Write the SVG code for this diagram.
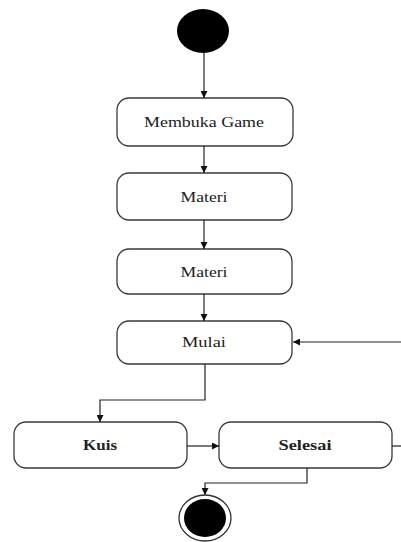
<svg xmlns="http://www.w3.org/2000/svg" width="401" height="542" viewBox="0 0 401 542">
<style>
.box{fill:#fff;stroke:#3a3a3a;stroke-width:1.3}
.lbl{font-family:"Liberation Serif","Times New Roman",serif;font-size:15px;fill:#222;text-anchor:middle}
.b{font-weight:bold}
.edge{fill:none;stroke:#222;stroke-width:1.2}
</style>
<defs>
<marker id="ah" viewBox="0 0 10 10" refX="10" refY="5" markerWidth="7" markerHeight="7" orient="auto" markerUnits="userSpaceOnUse">
<path d="M0,0 L10,5 L0,10 z" fill="#111"/>
</marker>
</defs>
<rect width="401" height="542" fill="#fff"/>
<g id="start"><ellipse cx="203" cy="31" rx="26" ry="22" fill="#000"/></g>
<g id="membuka"><rect class="box" x="117" y="98" width="176" height="48" rx="12"/><text class="lbl" x="204" y="127" textLength="120" lengthAdjust="spacingAndGlyphs">Membuka Game</text></g>
<g id="materi1"><rect class="box" x="117" y="173" width="175" height="47" rx="12"/><text class="lbl" x="204" y="202" textLength="47" lengthAdjust="spacingAndGlyphs">Materi</text></g>
<g id="materi2"><rect class="box" x="117" y="249" width="175" height="45" rx="12"/><text class="lbl" x="204" y="277" textLength="47" lengthAdjust="spacingAndGlyphs">Materi</text></g>
<g id="mulai"><rect class="box" x="117" y="321" width="175" height="43" rx="12"/><text class="lbl" x="204" y="347" textLength="44" lengthAdjust="spacingAndGlyphs">Mulai</text></g>
<g id="kuis"><rect class="box" x="14" y="422" width="173" height="46" rx="12"/><text class="lbl b" x="100" y="450" textLength="34" lengthAdjust="spacingAndGlyphs">Kuis</text></g>
<g id="selesai"><rect class="box" x="219" y="422" width="173" height="46" rx="12"/><text class="lbl b" x="305" y="450" textLength="53" lengthAdjust="spacingAndGlyphs">Selesai</text></g>
<g id="end"><ellipse cx="205" cy="518" rx="26" ry="23" fill="#fff" stroke="#333" stroke-width="1.3"/><ellipse cx="205" cy="518" rx="21" ry="19" fill="#000"/></g>
<g id="connectors">
<path class="edge" d="M204,53 V98" marker-end="url(#ah)"/>
<path class="edge" d="M204,146 V173" marker-end="url(#ah)"/>
<path class="edge" d="M204,220 V249" marker-end="url(#ah)"/>
<path class="edge" d="M204,294 V321" marker-end="url(#ah)"/>
<path class="edge" d="M401,342 H293" marker-end="url(#ah)"/>
<path class="edge" d="M205,364 V400 H100 V422" marker-end="url(#ah)"/>
<path class="edge" d="M187,446 H219" marker-end="url(#ah)"/>
<path class="edge" d="M392,446 H401"/>
<path class="edge" d="M307,468 V483 H205 V495" marker-end="url(#ah)"/>
</g>
</svg>
